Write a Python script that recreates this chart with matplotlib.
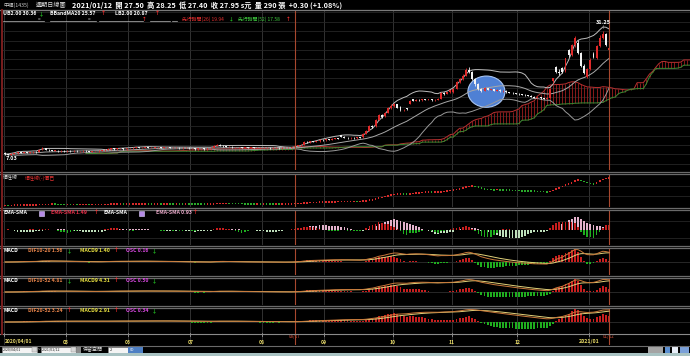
import matplotlib
matplotlib.use('Agg')
import matplotlib.pyplot as plt
from matplotlib.patches import Ellipse, Rectangle
import numpy as np
import pandas as pd

plt.rcParams['font.family'] = ['Noto Sans CJK TC', 'DejaVu Sans']

# daily candles 2020/04/01 - 2021/01/12 (one row per month)
opens = [
    7.5, 7.2, 7.1, 7.3, 7.4, 7.6, 7.5, 7.6, 7.5, 7.6, 7.7, 7.6, 8.1, 8.3, 8.1, 8.0, 7.9, 7.9, 7.8, 7.9,
    7.8, 7.9, 7.8, 7.9, 7.8, 7.8, 7.9, 7.8, 7.7, 7.8, 7.8, 7.9, 8.0, 8.1, 8.2, 8.3, 8.2, 8.3, 8.3, 8.2,
    8.3, 8.3, 8.4, 8.5, 8.4, 8.4, 8.5, 8.4, 8.4, 8.5, 8.5, 8.4, 8.5, 8.5, 8.4, 8.4, 8.4, 8.3, 8.4, 8.4,
    8.3, 8.3, 8.2, 8.3, 8.3, 8.2, 8.3, 8.4, 8.8, 9.0, 8.8, 8.7, 8.6, 8.6, 8.5, 8.5, 8.5, 8.4, 8.5, 8.4, 8.5, 8.4, 8.4,
    8.4, 8.4, 8.4, 8.3, 8.4, 8.4, 8.3, 8.4, 8.4, 8.4, 8.5, 8.8, 8.9, 9.0, 9.6, 9.5, 9.7, 9.6, 9.7, 10.0,
    9.9, 10.1, 10.0, 10.2, 10.3, 10.9, 10.6, 10.4, 10.3, 10.4, 10.3, 10.5, 10.5, 11.2, 11.8, 12.7, 12.6, 13.9, 14.8, 14.6, 15.3, 16.2,
    16.6, 16.9, 16.5, 15.8, 16.2, 17.0, 17.9, 17.6, 17.8, 17.7, 17.9, 17.8, 17.9, 17.7, 17.8, 18.0, 19.2, 19.0, 19.3,
    19.3, 20.0, 21.2, 21.8, 22.5, 23.7, 23.3, 21.8, 20.8, 20.0, 19.6, 20.1, 19.8, 19.9, 19.6, 19.8, 19.5, 19.6, 19.3, 19.2, 19.1,
    19.0, 18.9, 18.8, 18.7, 18.6, 18.4, 18.2, 18.3, 18.1, 18.0, 18.2, 21.5, 24.2, 23.3, 24.0, 23.4, 27.5, 26.5, 28.5, 29.0, 26.9, 24.5, 22.2,
    23.8, 26.8, 26.0, 28.4, 29.9, 30.6, 27.50,
]
closes = [
    7.2, 7.1, 7.3, 7.4, 7.6, 7.5, 7.6, 7.5, 7.6, 7.7, 7.6, 8.1, 8.3, 8.1, 8.0, 7.9, 7.9, 7.8, 7.9, 7.8,
    7.9, 7.8, 7.9, 7.8, 7.8, 7.9, 7.8, 7.7, 7.8, 7.8, 7.9, 8.0, 8.1, 8.2, 8.3, 8.2, 8.3, 8.3, 8.2, 8.3,
    8.3, 8.4, 8.5, 8.4, 8.4, 8.5, 8.4, 8.4, 8.5, 8.5, 8.4, 8.5, 8.5, 8.4, 8.4, 8.4, 8.3, 8.4, 8.4, 8.3,
    8.3, 8.2, 8.3, 8.3, 8.2, 8.3, 8.4, 8.8, 9.0, 8.8, 8.7, 8.6, 8.6, 8.5, 8.5, 8.5, 8.4, 8.5, 8.4, 8.5, 8.4, 8.4, 8.4,
    8.4, 8.4, 8.3, 8.4, 8.4, 8.3, 8.4, 8.4, 8.4, 8.5, 8.8, 8.9, 9.0, 9.6, 9.5, 9.7, 9.6, 9.7, 10.0, 9.9,
    10.1, 10.0, 10.2, 10.3, 10.2, 10.6, 10.4, 10.3, 10.4, 10.3, 10.5, 10.4, 11.2, 11.8, 12.7, 12.5, 13.9, 14.8, 14.5, 15.3, 16.2, 16.6,
    16.9, 16.3, 15.8, 15.9, 16.0, 17.6, 17.6, 17.8, 17.7, 17.9, 17.8, 17.9, 17.7, 17.8, 18.0, 19.2, 19.0, 19.3, 19.7,
    20.0, 21.2, 21.8, 22.5, 23.7, 23.3, 21.8, 20.8, 20.0, 19.6, 20.1, 19.8, 19.9, 19.6, 19.8, 19.5, 19.6, 19.3, 19.2, 19.1, 19.0,
    18.9, 18.8, 18.7, 18.6, 18.4, 18.2, 18.3, 18.1, 18.0, 18.2, 20.0, 22.0, 23.3, 23.0, 23.2, 26.0, 26.5, 28.5, 29.8, 27.0, 24.5, 23.0, 23.8,
    25.6, 26.2, 28.4, 29.9, 30.6, 28.5, 27.95,
]
highs = [
    7.6, 7.3, 7.4, 7.5, 7.7, 7.7, 7.7, 7.7, 7.7, 7.8, 7.8, 8.2, 8.5, 8.4, 8.2, 8.1, 8.0, 8.0, 8.0, 8.0,
    8.0, 8.0, 8.0, 8.0, 7.9, 8.0, 8.0, 7.9, 7.9, 7.9, 8.0, 8.1, 8.2, 8.3, 8.4, 8.4, 8.4, 8.4, 8.4, 8.4,
    8.4, 8.5, 8.6, 8.6, 8.5, 8.6, 8.6, 8.5, 8.6, 8.6, 8.6, 8.6, 8.6, 8.6, 8.5, 8.5, 8.5, 8.5, 8.5, 8.5,
    8.4, 8.4, 8.4, 8.4, 8.4, 8.4, 8.5, 8.9, 9.2, 9.1, 8.9, 8.8, 8.7, 8.7, 8.6, 8.6, 8.6, 8.6, 8.6, 8.6, 8.6, 8.5, 8.5,
    8.5, 8.5, 8.5, 8.5, 8.5, 8.5, 8.5, 8.5, 8.5, 8.6, 8.9, 9.0, 9.1, 9.7, 9.8, 9.8, 9.8, 9.8, 10.1, 10.1,
    10.2, 10.2, 10.3, 10.4, 10.4, 11.0, 10.7, 10.5, 10.5, 10.5, 10.6, 10.6, 11.3, 12.0, 12.8, 12.9, 14.0, 15.0, 15.0, 15.5, 16.4, 16.9,
    17.2, 17.0, 16.6, 16.1, 16.3, 17.7, 18.0, 17.9, 17.9, 18.0, 18.0, 18.0, 18.0, 17.9, 18.1, 19.4, 19.4, 19.4, 19.8,
    20.2, 21.4, 22.0, 22.8, 24.0, 24.2, 23.4, 22.0, 21.0, 20.2, 20.3, 20.2, 20.0, 20.0, 19.9, 19.9, 19.7, 19.7, 19.4, 19.3, 19.2,
    19.1, 19.0, 18.9, 18.8, 18.7, 18.5, 18.4, 18.4, 18.2, 18.3, 20.0, 22.0, 24.4, 23.8, 24.2, 26.0, 27.8, 28.8, 30.3, 29.4, 27.2, 24.8, 24.0,
    26.0, 27.1, 28.6, 30.4, 31.25, 30.8, 28.25,
]
lows = [
    7.1, 7.03, 7.1, 7.2, 7.3, 7.4, 7.4, 7.4, 7.5, 7.5, 7.5, 7.6, 8.0, 8.0, 7.9, 7.8, 7.8, 7.7, 7.7, 7.7,
    7.7, 7.7, 7.7, 7.7, 7.7, 7.7, 7.7, 7.6, 7.6, 7.7, 7.7, 7.8, 7.9, 8.0, 8.1, 8.1, 8.1, 8.2, 8.1, 8.1,
    8.2, 8.2, 8.3, 8.3, 8.3, 8.3, 8.3, 8.3, 8.3, 8.4, 8.3, 8.3, 8.4, 8.3, 8.3, 8.3, 8.2, 8.2, 8.3, 8.2,
    8.2, 8.1, 8.1, 8.2, 8.1, 8.1, 8.2, 8.3, 8.7, 8.7, 8.6, 8.5, 8.5, 8.4, 8.4, 8.4, 8.3, 8.3, 8.3, 8.3, 8.3, 8.3, 8.3,
    8.3, 8.3, 8.2, 8.2, 8.3, 8.2, 8.2, 8.3, 8.3, 8.3, 8.4, 8.7, 8.8, 8.9, 9.4, 9.4, 9.5, 9.5, 9.6, 9.8,
    9.8, 9.9, 9.9, 10.1, 10.1, 10.5, 10.3, 10.2, 10.2, 10.2, 10.2, 10.3, 10.4, 11.1, 11.7, 12.3, 12.5, 13.8, 14.3, 14.5, 15.2, 16.0,
    16.4, 16.2, 15.6, 15.6, 15.9, 16.9, 17.5, 17.5, 17.6, 17.6, 17.7, 17.7, 17.6, 17.6, 17.7, 17.9, 18.8, 18.9, 19.2,
    19.2, 19.9, 21.0, 21.6, 22.4, 23.0, 21.6, 20.6, 19.8, 19.4, 19.5, 19.7, 19.7, 19.5, 19.5, 19.4, 19.4, 19.2, 19.1, 19.0, 18.9,
    18.8, 18.7, 18.6, 18.5, 18.3, 18.1, 18.1, 18.0, 17.9, 17.9, 18.1, 21.0, 23.0, 22.7, 23.0, 23.2, 26.2, 26.3, 28.2, 26.8, 24.2, 22.8, 22.0,
    23.6, 26.0, 25.8, 28.2, 29.6, 28.3, 27.40,
]

month_labels = ['2020/04/01', '05', '06', '07', '08', '09', '10', '11', '12', '2021/01']
month_start = [0, 20, 40, 60, 83, 103, 125, 144, 165, 188]
mark_days = [93, 194]
mark_labels = ['08/17', '01/12']

W, H = 690, 356
fig = plt.figure(figsize=(W / 100, H / 100), dpi=100, facecolor='black')

o = np.array(opens); c = np.array(closes); h = np.array(highs); l = np.array(lows)
n = len(c)
idx = np.arange(n)
cs = pd.Series(c); hs = pd.Series(h); ls = pd.Series(l)

RED = '#e02a2a'
GREEN = '#22c022'


def panel(y0, y1):
    ax = fig.add_axes([2 / W, 1 - y1 / H, (W - 2) / W, (y1 - y0) / H])
    ax.set_facecolor('black')
    ax.set_xlim(-1, 220)
    ax.set_xticks([]); ax.set_yticks([])
    for s in ax.spines.values():
        s.set_visible(False)
    for m in month_start:
        ax.axvline(m - 0.5, color='#3a3a3a', lw=0.6, zorder=0)
    for d in mark_days:
        ax.axvline(d, color='#a8482e', lw=0.8, zorder=6)
    return ax


def hgrid(ax, ys, y0, y1, color='#262626'):
    for y in ys:
        f = 1 - (y - y0) / (y1 - y0)
        ax.plot([0, 1], [f, f], transform=ax.transAxes, color=color, lw=0.6, zorder=0)


def bars(ax, vals, pos_col, neg_col, width=0.6, z=2):
    cols = np.where(vals >= 0, pos_col, neg_col)
    ax.bar(idx, vals, width=width, color=cols, lw=0, zorder=z)


# ---------------- main price panel ----------------
ax = panel(10, 170)
ax.set_ylim(4.10, 35.35)
hgrid(ax, np.arange(12, 170, 9.5), 10, 170)

ma20 = cs.rolling(20, min_periods=1).mean()
sd20 = cs.rolling(20, min_periods=1).std(ddof=0)
ub = ma20 + 2 * sd20
lb = ma20 - 2 * sd20

tenkan = (hs.rolling(9, min_periods=1).max() + ls.rolling(9, min_periods=1).min()) / 2
kijun = (hs.rolling(26, min_periods=1).max() + ls.rolling(26, min_periods=1).min()) / 2
span_a = ((tenkan + kijun) / 2).values
span_b = ((hs.rolling(52, min_periods=1).max() + ls.rolling(52, min_periods=1).min()) / 2).values
xs = idx + 26
ax.vlines(xs, span_a, span_b, colors=np.where(span_a >= span_b, '#9c1e1e', '#2a7a28'), lw=0.6, zorder=1)
ax.plot(xs, span_a, color='#b83030', lw=0.7, zorder=1)
ax.plot(xs, span_b, color='#3c8c34', lw=0.7, zorder=1)

ax.add_patch(Ellipse((154.6, 19.4), 11.9, 6.1, fc='#4f80d4', ec='#a8c4f0', lw=0.8, zorder=1.5))

ax.plot(idx, ub, color='#bdbdbd', lw=0.7, zorder=2)
ax.plot(idx, ma20, color='#a8a8a8', lw=0.7, zorder=2)
ax.plot(idx, lb, color='#9a9a9a', lw=0.7, zorder=2)

ccol = np.where(c >= o, RED, '#f2f2f2')
ax.vlines(idx, l, h, colors=ccol, lw=0.6, zorder=3)
ax.bar(idx, np.maximum(np.abs(c - o), 0.08), bottom=np.minimum(o, c), width=0.62,
       color=ccol, lw=0, zorder=3)

top = int(np.argmax(h)); bot = int(np.argmin(l))
ax.text(top, h[top] + 1.1, f'{h[top]:.2f}', color='white', fontsize=4, ha='center',
        va='bottom', weight='bold', zorder=7)
ax.text(top, h[top] + 0.3, '|', color='white', fontsize=3, ha='center', va='bottom', zorder=7)
ax.text(bot - 0.8, l[bot] - 0.2, f'{l[bot]:.2f}', color='white', fontsize=4, ha='left',
        va='top', weight='bold', zorder=7)

# ---------------- inertia line panel ----------------
ax2 = panel(175, 207)
sm5 = cs.rolling(5, min_periods=1).mean().values
rng = sm5.max() - sm5.min()
ax2.set_ylim(sm5.min() - 0.06 * rng, sm5.max() + 0.12 * rng)
hgrid(ax2, [186, 196], 175, 207)
rising = np.r_[True, np.diff(sm5) >= 0]
ax2.scatter(idx, sm5, s=1.3, marker='s', lw=0, c=np.where(rising, '#d82a2a', '#2aa82a'), zorder=3)

# ---------------- EMA-SMA panel (in % of SMA) ----------------
ax3 = panel(210, 245)
sma10 = cs.rolling(10, min_periods=1).mean()
sma20 = cs.rolling(20, min_periods=1).mean()
es10 = ((cs.ewm(span=10, adjust=False).mean() - sma10) / sma10 * 100).values
es20 = ((cs.ewm(span=20, adjust=False).mean() - sma20) / sma20 * 100).values
M = max(np.abs(es10).max(), np.abs(es20).max())
ax3.set_ylim(-M * 15 / 13, M * 20 / 13)
hgrid(ax3, [221, 238], 210, 245)
bars(ax3, es20, '#e4b2cc', '#bfe0bb', z=2)
bars(ax3, es10, '#c81e1e', '#1fae1f', width=0.5, z=3)


# ---------------- MACD panels ----------------
def macd_panel(y0, y1, zero, fast, slow):
    a = panel(y0, y1)
    dif = (cs.ewm(span=fast, adjust=False).mean() - cs.ewm(span=slow, adjust=False).mean()).values
    sig = pd.Series(dif).ewm(span=9, adjust=False).mean().values
    osc = dif - sig
    up = zero - y0; down = y1 - zero
    hgrid(a, [zero], y0, y1, color='#2e2e2e')
    a2 = a.twinx()
    a2.set_xlim(-1, 220)
    a2.set_yticks([])
    for s in a2.spines.values():
        s.set_visible(False)
    mh = np.abs(osc).max() * 1.08
    a.set_ylim(-mh * down / up, mh)
    bars(a, osc, '#c81e1e', '#1fae1f', z=2)
    ml = max(np.abs(dif).max(), np.abs(sig).max()) * 1.12
    a2.set_ylim(-ml * down / up, ml)
    a2.plot(idx, sig, color='#e2d27a', lw=0.7)
    a2.plot(idx, dif, color='#c8783a', lw=0.7)
    return a


macd_panel(248, 275, 262, 10, 20)
macd_panel(278, 305, 292, 10, 52)
macd_panel(308, 333, 322, 20, 52)

# ---------------- date axis ----------------
axd = panel(333, 345)
axd.set_ylim(0, 1)
for m, lab in zip(month_start, month_labels):
    if lab.startswith('2020'):
        axd.text(m - 0.2, 0.25, lab, color='#e2d46c', fontsize=3.6, ha='left', va='center', weight='bold')
    else:
        axd.text(m - 0.5, 0.25, lab, color='#e8da66', fontsize=3.8 if len(lab) > 2 else 3.6,
                 ha='center', va='center', weight='bold')
    axd.plot([m - 0.5, m - 0.5], [0.75, 1.0], color='#9a9a9a', lw=0.6)
for d, lab in zip(mark_days, mark_labels):
    axd.text(d, 0.72, lab, color='#d0503a', fontsize=3.2, ha='center', va='center')

# ---------------- overlay (pixel coordinates) ----------------
ov = fig.add_axes([0, 0, 1, 1])
ov.set_xlim(0, W); ov.set_ylim(H, 0)
ov.axis('off')
ov.patch.set_alpha(0)


def seg(x, y, s, color='white', size=4, weight='bold'):
    ov.text(x, y, s, color=color, fontsize=size, ha='left', va='center', weight=weight)


# separators
ov.plot([0, W], [10, 10], color='#7a7a7a', lw=0.9)
for y in [171.5, 174, 207.5, 209.5, 246, 247.8, 276, 277.8, 306, 307.8]:
    ov.plot([0, W], [y, y], color='#6a6a6a', lw=0.9)
ov.plot([0, W], [333.5, 333.5], color='#8a8a8a', lw=0.8)
ov.plot([0, W], [345.5, 345.5], color='#6a6a6a', lw=0.8)
ov.plot([1.5, 1.5], [10, 334], color='#7a1e1e', lw=1.4)

# header row 1
seg(3, 5.5, '中福(1435)', color='#c8c8c8', size=3.8, weight='normal')
seg(36, 5.5, '週期日線圖', color='#e0e0e0', size=4.4, weight='normal')
seg(72, 5.5, '2021/01/12  開 27.50  高 28.25  低 27.40  收 27.95 s元  量 290 張  +0.30 (+1.08%)',
    color='white', size=5.2)

# header row 2 (bollinger)
seg(3, 13.5, 'UB2.00 30.36', size=3.7); seg(39, 13.5, '↓', color=GREEN, size=3.7)
seg(50, 13.5, 'BBandMA20 25.57', size=3.7); seg(101, 13.5, '↑', color='#ff3030', size=3.7)
seg(115, 13.5, 'LB2.00 20.87', size=3.7); seg(155, 13.5, '↑', color='#ff3030', size=3.7)

# header row 3 (ichimoku fields)
for x0, x1 in [(3, 44), (50, 96), (99, 143), (150, 170), (172, 177)]:
    ov.plot([x0, x1], [21, 21], color='#bbbbbb', lw=0.5)
seg(38, 19.3, '=', color='#dddddd', size=3.4, weight='normal')
seg(88, 19.3, '=', color='#dddddd', size=3.4, weight='normal')
seg(142, 19.3, '↑', color='#ff3030', size=3.4)
seg(182, 19.3, '先行時間(26) 19.94', color='#e83030', size=3.5, weight='normal')
seg(229, 19.3, '↓', color=GREEN, size=3.5)
seg(238, 19.3, '先行時間(52) 17.58', color='#40d040', size=3.5, weight='normal')
seg(286, 19.3, '↑', color='#ff3030', size=3.5)

# panel headers
seg(3, 178, '慣性線', color='#dddddd', size=3.6, weight='normal')
seg(25, 178, '慣性線(-)價已', color='#e03030', size=3.6, weight='normal')

seg(3, 213, 'EMA-SMA', size=3.7)
ov.add_patch(Rectangle((39, 210.5), 5, 5, fc='#b58ae6', ec='#e0d0ff', lw=0.4))
seg(51, 213, 'EMA-SMA 1.49', color='#e8304a', size=3.7); seg(94, 213, '↑', color='#ff3030', size=3.7)
seg(104, 213, 'EMA-SMA', size=3.7)
ov.add_patch(Rectangle((139, 210.5), 5, 5, fc='#b58ae6', ec='#e0d0ff', lw=0.4))
seg(156, 213, 'EMA-SMA 0.93', color='#e8a8c8', size=3.7); seg(193, 213, '↑', color='#ff3030', size=3.7)

macd_heads = [
    (251, 'DIF10-20 1.56', '↓', 'MACD9 1.40', '↑', 'OSC 0.16', '↓'),
    (281, 'DIF10-52 4.81', '↓', 'MACD9 4.31', '↑', 'OSC 0.50', '↓'),
    (311, 'DIF20-52 3.24', '↑', 'MACD9 2.91', '↑', 'OSC 0.34', '↓'),
]
arrow_col = {'↑': '#ff3030', '↓': GREEN}
for y, d_txt, d_ar, m_txt, m_ar, o_txt, o_ar in macd_heads:
    seg(3, y, 'MACD', size=3.7)
    seg(28, y, d_txt, color='#e8844a', size=3.7); seg(67, y, d_ar, color=arrow_col[d_ar], size=3.7)
    seg(80, y, m_txt, color='#e8e040', size=3.7); seg(114, y, m_ar, color=arrow_col[m_ar], size=3.7)
    seg(126, y, o_txt, color='#d848e0', size=3.7); seg(152, y, o_ar, color=arrow_col[o_ar], size=3.7)

# bottom toolbar
for x0, x1, lab in [(2, 37, '2020/04/01'), (41, 76, '2021/01/12')]:
    ov.add_patch(Rectangle((x0, 346.5), x1 - x0, 6, fc='#f4f4f4', ec='#888888', lw=0.4))
    ov.text(x0 + 1, 349.6, lab, color='#222222', fontsize=2.6, va='center', ha='left')
    ov.add_patch(Rectangle((x1 - 5, 347), 4.5, 5, fc='#d8d8d8', ec='#888888', lw=0.3))
seg(38, 349.5, '~', color='white', size=3.2, weight='normal')
ov.add_patch(Rectangle((77, 346.5), 4, 6, fc='#8a8a8a', lw=0))
seg(83, 349.5, '保留空間', color='#e8e8e8', size=3.6, weight='normal')
ov.add_patch(Rectangle((108, 346.5), 20, 6, fc='#f4f4f4', ec='#888888', lw=0.4))
ov.text(110, 349.6, '2', color='#222222', fontsize=2.8, va='center')
ov.add_patch(Rectangle((128, 346.5), 15, 6, fc='#4d7fc4', lw=0))
ov.text(130, 349.6, '00', color='white', fontsize=2.8, va='center')
ov.add_patch(Rectangle((648, 346.5), 15, 6, fc='#a4a4a4', lw=0))
ov.add_patch(Rectangle((665, 346.5), 5, 6, fc='#5b8fd0', lw=0))
ov.add_patch(Rectangle((672, 346.5), 6, 6, fc='#e8eef8', lw=0))
ov.add_patch(Rectangle((680, 346.5), 9, 6, fc='#7aa0d8', lw=0))
ov.add_patch(Rectangle((0, 353), W, 3, fc='#a8c2c2', lw=0))

fig.savefig('out.png', dpi=100, facecolor='black')
